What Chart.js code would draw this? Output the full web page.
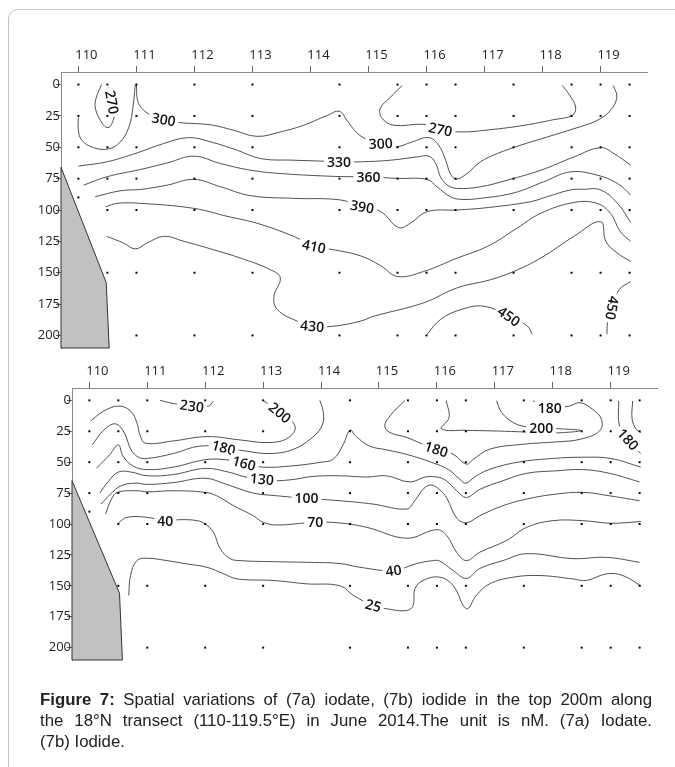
<!DOCTYPE html>
<html>
<head>
<meta charset="utf-8">
<script src="https://cdn.jsdelivr.net/npm/chart.js@4.4.0/dist/chart.umd.min.js"></script>
<style>
body{margin:0;background:#fff;width:675px;height:767px;overflow:hidden;position:relative;font-family:"Liberation Sans",Arial,sans-serif}
.frame{position:absolute;left:8px;top:9px;width:720px;height:820px;border:1px solid #c4c4c4;border-radius:10px}
#panelA{position:absolute;left:0;top:0}
#panelB{position:absolute;left:0;top:360px}
.caption{position:absolute;left:40px;top:689px;width:612px;font-size:16.8px;line-height:21px;color:#222}
.caption .j{text-align:justify;text-align-last:justify;white-space:nowrap}
</style>
</head>
<body>
<div class="frame"></div>
<canvas id="panelA" width="675" height="360"></canvas>
<canvas id="panelB" width="675" height="330"></canvas>
<div class="caption">
<div class="j"><b>Figure 7:</b> Spatial variations of (7a) iodate, (7b) iodide in the top 200m along</div>
<div class="j">the 18°N transect (110-119.5°E) in June 2014.The unit is nM. (7a) Iodate.</div>
<div>(7b) Iodide.</div>
</div>
<script>
// axes
const lonTicks = [110, 111, 112, 113, 114, 115, 116, 117, 118, 119];
const depthTicks = [0, 25, 50, 75, 100, 125, 150, 175, 200];

// sampling stations (longitude) and depths sampled at each
const stationLon = [110, 110.5, 111, 112, 113, 114.5, 115.5, 116, 116.5, 117.5, 118.5, 119, 119.5];
const fullCast = [0, 25, 50, 75, 100, 150, 200];
const castDepths = [[0, 25, 50, 75, 90], [0, 25, 50, 75, 100, 150],
  fullCast, fullCast, fullCast, fullCast, fullCast, fullCast, fullCast, fullCast, fullCast, fullCast, fullCast];

// continental slope outline [lon, depth]
const shelfA = [[109.7, 66], [110.48, 158], [110.53, 210], [109.7, 210]];
const shelfB = [[109.7, 65], [110.52, 156], [110.57, 210], [109.7, 210]];

// (7a) iodate contours [lon, depth]
const iodate270a = [[110.4,0],[110.31,10],[110.29,18],[110.38,28.6],[110.51,34.4],[110.61,27.2],[110.62,20.6],[110.58,14],[110.52,2]];
const iodate300a = [[110.0,26.4],[110.0,36.5],[110.06,44.4],[110.26,50.3],[110.52,51.3],[110.72,45.8],[110.87,33.9],[110.94,18],[110.98,0]];
const iodate300b = [[111.0,0],[111.02,12.7],[111.1,19.3],[111.21,23.3],[111.47,27.8],[111.76,30.4],[112.05,31.2],[112.33,32.5],[112.68,36.5],[113.08,41.3],[113.48,37.8],[113.88,32.5],[114.29,24.6],[114.5,21.4],[114.63,28.6],[114.8,38.5],[115.0,44.4],[115.21,47],[115.47,49.7],[115.75,45.8],[116.04,42.3],[116.21,48.4],[116.33,60.3],[116.41,70.9],[116.51,75.4],[116.7,70.9],[116.93,61.6],[117.22,55],[117.62,48.4],[118.08,41.8],[118.54,35.2],[118.94,28.6],[119.17,20.6],[119.28,10],[119.22,0.8]];
const iodate270b = [[115.58,0.8],[115.38,10],[115.2,19.3],[115.24,27.2],[115.44,32.5],[115.95,31.7],[116.24,35.7],[116.59,37.8],[117.1,36],[117.68,32.5],[118.19,28],[118.51,24.6],[118.57,18],[118.45,7.4],[118.34,0.8]];
const iodate330 = [[110.0,65],[110.49,61.6],[111.01,54.5],[111.47,47],[111.9,42.3],[112.28,45.7],[112.74,52.4],[113.14,59],[113.71,60.3],[114.17,61],[114.49,61.6],[114.86,61.6],[115.38,60.3],[115.84,57.7],[116.04,57.1],[116.16,63],[116.24,73.5],[116.36,80.2],[116.53,82.8],[116.93,81.5],[117.39,76.2],[117.97,68.3],[118.54,57.7],[119.0,50.3],[119.23,55],[119.52,64.3]];
const iodate360 = [[110.09,80.2],[110.49,73.5],[111.07,67.7],[111.53,62.5],[111.99,57.1],[112.45,63],[112.97,68.3],[113.48,70.9],[114.29,73],[114.75,73.5],[115.0,73.5],[115.49,74.8],[116.01,75.6],[116.18,81.5],[116.41,89.4],[116.59,91.5],[116.93,90.7],[117.51,86.3],[118.02,77.5],[118.48,69.6],[118.94,72.2],[119.29,78.8],[119.52,88]];
const iodate390 = [[110.29,89.4],[110.72,84.7],[111.07,83.6],[111.53,80.2],[111.99,75.6],[112.45,81.5],[112.97,88.6],[113.71,90.7],[114.52,92],[114.89,97.4],[115.21,101.3],[115.52,114],[115.72,110.6],[116.01,101.3],[116.53,100],[117.07,98],[117.79,93.4],[118.08,89.4],[118.48,84],[118.7,83.5],[119.0,84],[119.29,94.6],[119.52,110]];
const iodate410 = [[110.47,97.4],[110.67,94.7],[111.07,94.7],[111.99,98.7],[112.56,105],[113.08,110.6],[113.71,121],[114.06,129],[114.4,131.7],[114.86,136.5],[115.21,144.4],[115.5,153],[115.95,149],[116.53,138.3],[117.05,129],[117.56,114.5],[117.97,102.6],[118.54,94],[118.94,94.7],[119.17,102.6],[119.34,117.2],[119.52,125]];
const iodate430 = [[110.49,121],[110.78,126.4],[110.98,131],[111.18,126.4],[111.47,121],[111.82,125],[112.33,131.7],[112.79,138.3],[113.31,147.6],[113.48,154.2],[113.37,168.8],[113.43,179.4],[113.77,188.6],[114.03,192.6],[114.4,192.6],[114.86,188.6],[115.09,184.7],[115.95,174],[116.53,162],[117.1,155.6],[117.5,149],[117.97,138.3],[118.54,121],[119.0,109.3],[119.09,125],[119.29,134.4],[119.52,141]];
const iodate450a = [[116.01,199],[116.24,187.3],[116.59,179.4],[116.99,176.7],[117.42,184.7],[117.74,192.6],[117.82,199]];
const iodate450b = [[119.11,199],[119.12,190],[119.2,178],[119.32,163.5],[119.52,157]];

const iodateLabelText = ['270', '300', '300', '270', '330', '360', '390', '410', '430', '450', '450'];
const iodateLabelLon = [110.58, 111.47, 115.21, 116.24, 114.49, 115.0, 114.89, 114.06, 114.03, 117.42, 119.2];
const iodateLabelDepth = [14, 27.8, 47, 35.7, 61.6, 73.5, 97.4, 129, 192.6, 184.7, 178];

// (7b) iodide contours [lon, depth]
const iodide230 = [[111.22,0],[111.45,2.5],[111.77,4.6],[112.06,4.6],[112.14,0.5]];
const iodide200a = [[110.02,16.7],[110.25,8.6],[110.51,4.6],[110.71,8.6],[110.82,18],[110.88,28.8],[110.97,34.7],[111.45,32.8],[112.03,29.3],[112.6,32],[113.12,34.1],[113.44,30.1],[113.55,20.7],[113.29,9.9],[113.0,0]];
const iodide200b = [[116.16,0],[116.21,14],[116.08,23],[116.51,24.2],[116.97,24.7],[117.49,25.5],[118.06,26.3],[118.49,24.4],[118.06,22.8],[117.8,22],[117.55,21.5],[117.32,18],[117.12,10],[117.03,0.5]];
const iodide200c = [[119.38,0.5],[119.37,15],[119.44,23.4],[119.52,26]];
const iodide180a = [[110.05,36],[110.25,24],[110.45,19],[110.6,26],[110.72,40],[110.85,46],[111.0,47],[111.45,43],[111.9,37],[112.32,38.2],[112.7,41],[113.1,43],[113.5,40],[113.85,30],[114.02,20],[114.04,10],[113.98,0]];
const iodide180b = [[115.45,0],[115.19,12.6],[115.1,20.7],[115.19,26],[115.48,30],[115.76,35.5],[115.99,39.5],[116.28,43.5],[116.51,51.6],[116.63,47.6],[116.91,39.5],[117.49,35.5],[118.06,33.6],[118.47,31.5],[118.81,24.7],[118.84,15.3],[118.69,7.3],[118.47,1.9],[118.29,4.6],[117.95,5.9],[117.66,0.5]];
const iodide180c = [[119.14,0.5],[119.15,20],[119.3,31.5],[119.45,40],[119.52,43]];
const iodide160 = [[110.12,55],[110.35,44],[110.5,36],[110.58,45],[110.75,53],[111.0,56],[111.45,54],[112.0,48],[112.35,48],[112.67,50.8],[113.0,54],[113.5,53],[114.0,50],[114.21,47.6],[114.38,36],[114.5,24],[114.6,29],[114.84,37],[115.13,40],[115.5,44],[115.9,50],[116.2,56],[116.4,64],[116.5,67],[116.65,62],[116.9,56],[117.4,50],[118.0,47],[118.5,46],[119.0,47],[119.52,54]];
const iodide130 = [[110.18,75],[110.32,66],[110.5,58],[110.72,58],[111.0,61],[111.45,60],[112.0,55],[112.4,58],[112.7,62],[112.98,63.7],[113.18,65],[113.52,64],[113.86,61.5],[114.33,61],[114.8,62],[115.13,61],[115.53,66],[115.8,62],[116.0,62],[116.16,65],[116.34,73],[116.51,78.5],[116.74,72],[117.14,65],[117.55,59],[118.06,57],[118.52,56],[118.98,59],[119.5,66]];
const iodide100 = [[110.2,84],[110.36,76],[110.55,69],[110.8,67],[111.0,68],[111.45,66.5],[112.0,63],[112.37,68],[112.83,75],[113.2,77],[113.75,79.3],[114.33,81.2],[114.9,83.9],[115.48,87.9],[115.62,81],[115.78,71],[115.9,68.5],[116.04,72],[116.17,79],[116.34,95],[116.51,99],[116.74,93.3],[117.14,85.2],[117.55,79.8],[118.06,75.8],[118.52,74.4],[118.98,77.2],[119.5,81.2]];
const iodide70 = [[110.28,92],[110.38,80],[110.48,74.4],[110.82,73.1],[111.0,74],[111.45,73.1],[112.0,74.4],[112.2,77.2],[112.49,85.2],[112.83,93.3],[113.0,98.6],[113.24,100.8],[113.9,98.6],[114.33,99.2],[114.79,102.7],[115.48,111.5],[115.99,104.6],[116.17,109.4],[116.34,122.8],[116.51,129.6],[116.74,122.8],[117.2,113.4],[117.55,102.7],[118.0,97.3],[118.52,97.3],[119.01,99.4],[119.52,98]];
const iodide40 = [[110.5,99.2],[110.65,94.6],[110.99,94.6],[111.31,97.3],[111.57,96.5],[111.86,97.3],[112.0,100],[112.14,106.5],[112.26,120],[112.43,128],[112.6,129.6],[113.2,130.5],[113.75,131],[114.33,132],[114.67,135],[115.25,137.6],[115.65,132],[115.94,129.6],[116.05,130],[116.28,137.6],[116.51,144],[116.74,136],[117.14,129.6],[117.55,124],[118.35,128],[118.93,127],[119.5,131]];
const iodide25 = [[110.68,157.8],[110.71,141.7],[110.82,129.6],[110.99,127.7],[111.34,129.6],[111.68,132.3],[112.03,135],[112.32,140.3],[112.55,144.4],[113.18,145.7],[113.75,148.4],[114.33,150],[114.56,157.8],[114.9,165.9],[115.19,169],[115.48,170],[115.59,165.9],[115.62,152.4],[115.76,145.7],[116.05,143],[116.28,149.8],[116.51,168.5],[116.68,157.8],[116.91,148.4],[117.32,143],[117.78,141.7],[118.35,144.4],[118.58,145.7],[118.93,140.3],[119.21,141.7],[119.52,150]];

const iodideLabelText = ['230', '200', '180', '160', '130', '100', '70', '40', '40', '25', '180', '180', '200', '180'];
const iodideLabelLon = [111.77, 113.29, 112.32, 112.67, 112.98, 113.75, 113.9, 111.31, 115.25, 114.9, 115.99, 117.95, 117.8, 119.3];
const iodideLabelDepth = [4.6, 9.9, 38.2, 50.8, 63.7, 79.3, 98.6, 97.3, 137.6, 165.9, 39.5, 5.9, 22, 31.5];

// label rotation (degrees), style only
const iodateLabelAngle = [80, 10, -3, 12, 0, 0, 10, 12, 5, 35, 100];
const iodideLabelAngle = [8, 40, 15, 15, 5, 0, 0, 0, -8, 15, 18, 0, 0, 48];

const iodateLines = [iodate270a, iodate300a, iodate300b, iodate270b, iodate330, iodate360, iodate390, iodate410, iodate430, iodate450a, iodate450b];
const iodideLines = [iodide230, iodide200a, iodide200b, iodide200c, iodide180a, iodide180b, iodide180c, iodide160, iodide130, iodide100, iodide70, iodide40, iodide25];

const contourDecor = {
  id: 'contourDecor',
  beforeDatasetsDraw(chart, args, opts) {
    const ctx = chart.ctx, x = chart.scales.x, y = chart.scales.y;
    ctx.save();
    ctx.beginPath();
    opts.shelf.forEach(function(p, i){
      const px = x.getPixelForValue(p[0]), py = y.getPixelForValue(p[1]);
      if (i) ctx.lineTo(px, py); else ctx.moveTo(px, py);
    });
    ctx.closePath();
    ctx.fillStyle = '#c1c1c1';
    ctx.fill();
    ctx.strokeStyle = '#333';
    ctx.lineWidth = 1;
    ctx.stroke();
    ctx.restore();
  },
  beforeDatasetDraw(chart, args, opts) {
    // labels go on top of the contour lines, under the sample dots (dataset 0)
    if (args.index !== 0) return;
    const ctx = chart.ctx, x = chart.scales.x, y = chart.scales.y;
    ctx.save();
    ctx.font = '600 14px "Open Sans"';
    ctx.textAlign = 'center';
    ctx.textBaseline = 'middle';
    opts.text.forEach(function(t, i){
      const px = x.getPixelForValue(opts.lon[i]), py = y.getPixelForValue(opts.depth[i]);
      ctx.save();
      ctx.translate(px, py);
      ctx.rotate(opts.angle[i] * Math.PI / 180);
      const w = ctx.measureText(t).width;
      ctx.fillStyle = '#fff';
      ctx.fillRect(-w / 2 - 3, -7, w + 6, 14);
      ctx.fillStyle = '#111';
      ctx.fillText(t, 0, 1);
      ctx.restore();
    });
    ctx.restore();
  }
};

function buildPanel(canvasId, lines, labels, shelf, yWidth, xHeight, padRight, padBottom) {
  const dots = [];
  stationLon.forEach(function(lon, i){
    castDepths[i].forEach(function(d){ dots.push({x: lon, y: d}); });
  });

  const datasets = [{
    data: dots,
    pointStyle: 'rect',
    pointRadius: 1.4,
    backgroundColor: '#000',
    borderWidth: 0,
    showLine: false
  }];
  lines.forEach(function(line){
    datasets.push({
      data: line.map(function(p){ return {x: p[0], y: p[1]}; }),
      showLine: true,
      borderColor: '#3c3c3c',
      borderWidth: 0.9,
      pointRadius: 0,
      tension: 0.4,
      fill: false
    });
  });

  return new Chart(document.getElementById(canvasId), {
    type: 'scatter',
    data: { datasets: datasets },
    options: {
      responsive: false,
      animation: false,
      events: [],
      layout: { padding: { left: 0, top: 0, right: padRight, bottom: padBottom } },
      plugins: {
        legend: { display: false },
        tooltip: { enabled: false },
        contourDecor: { shelf: shelf, text: labels.text, lon: labels.lon, depth: labels.depth, angle: labels.angle }
      },
      scales: {
        x: {
          type: 'linear',
          position: 'top',
          min: 109.7,
          max: 119.8,
          afterBuildTicks: function(s){ s.ticks = lonTicks.map(function(v){ return {value: v}; }); },
          afterFit: function(s){ s.height = xHeight; },
          grid: { drawOnChartArea: false, drawTicks: true, tickLength: 6, color: '#666' },
          border: { display: true, color: '#8a8a8a', width: 1 },
          ticks: { color: '#222', padding: 3, labelOffset: 8, font: { family: 'Open Sans', size: 13 } }
        },
        y: {
          type: 'linear',
          reverse: true,
          min: -10,
          max: 210,
          afterBuildTicks: function(s){ s.ticks = depthTicks.map(function(v){ return {value: v}; }); },
          afterFit: function(s){ s.width = yWidth; },
          grid: { drawOnChartArea: false, drawTicks: true, tickLength: 5, color: '#666' },
          border: { display: true, color: '#8a8a8a', width: 1 },
          ticks: { color: '#222', padding: -4, font: { family: 'Open Sans', size: 13 } }
        }
      }
    },
    plugins: [contourDecor]
  });
}

buildPanel('panelA', iodateLines,
  { text: iodateLabelText, lon: iodateLabelLon, depth: iodateLabelDepth, angle: iodateLabelAngle },
  shelfA, 61, 72, 28, 12);

buildPanel('panelB', iodideLines,
  { text: iodideLabelText, lon: iodideLabelLon, depth: iodideLabelDepth, angle: iodideLabelAngle },
  shelfB, 72, 28, 18, 30);
</script>
</body>
</html>
